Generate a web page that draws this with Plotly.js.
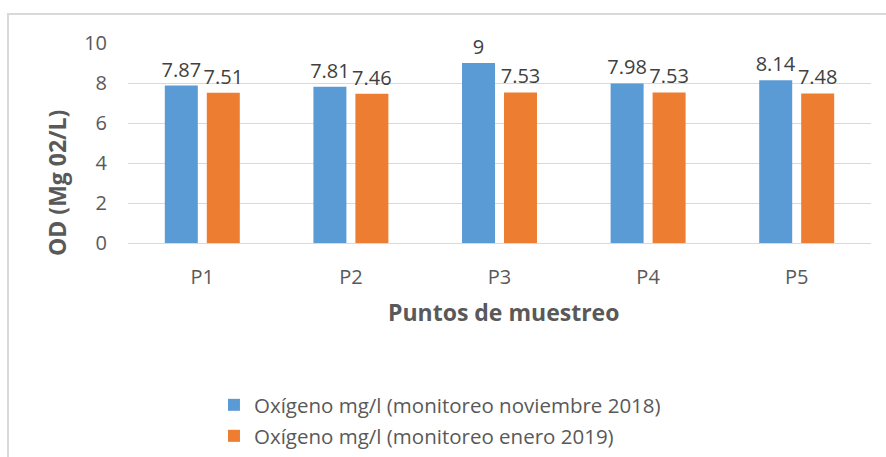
<!DOCTYPE html>
<html>
<head>
<meta charset="utf-8">
<script src="https://cdn.plot.ly/plotly-3.0.1.min.js"></script>
<style>
  html, body { margin: 0; padding: 0; background: #fff; }
  #frame { position: absolute; left: 7px; top: 13px; width: 879px; height: 444px;
           border-left: 2px solid #d9d9d9; border-top: 2px solid #d9d9d9; }
  #chart { width: 877px; height: 442px; }
</style>
</head>
<body>
<div id="frame"><div id="chart"></div></div>
<script>
const categories = ["P1", "P2", "P3", "P4", "P5"];
const nov2018 = [7.87, 7.81, 9, 7.98, 8.14];
const ene2019 = [7.51, 7.46, 7.53, 7.53, 7.48];
const seriesNames = ["Oxígeno mg/l (monitoreo noviembre 2018)", "Oxígeno mg/l (monitoreo enero 2019)"];
const yTicks = [0, 2, 4, 6, 8, 10];
const xTitle = "Puntos de muestreo";
const yTitle = "OD (Mg 02/L)";

const FONT = "'Open Sans', sans-serif";
const labelFont = { family: FONT, size: 20, color: "#404040" };

const traces = [
  { type: "bar", x: categories, y: nov2018, name: seriesNames[0],
    marker: { color: "#5B9BD5" }, text: nov2018.map(String), textposition: "outside",
    textfont: labelFont, constraintext: "none", cliponaxis: false, legend: "legend",
    hoverinfo: "x+y" },
  { type: "bar", x: categories, y: ene2019, name: seriesNames[1],
    marker: { color: "#ED7D31" }, text: ene2019.map(String), textposition: "outside",
    textfont: labelFont, constraintext: "none", cliponaxis: false, legend: "legend2",
    hoverinfo: "x+y" }
];

const legendCommon = { orientation: "v", xanchor: "left", yanchor: "middle",
  font: { family: FONT, size: 20.5, color: "#595959" }, bgcolor: "rgba(0,0,0,0)",
  itemwidth: 30 };

const titleFont = { family: FONT, size: 23, color: "#595959" };

const layout = {
  width: 877, height: 442,
  margin: { l: 119, r: 15, t: 28, b: 214, autoexpand: false },
  paper_bgcolor: "#fff", plot_bgcolor: "#fff",
  barmode: "group", bargap: 0.435, bargroupgap: 0.214,
  font: { family: FONT, color: "#595959" },
  xaxis: {
    type: "category", showgrid: false, showline: true, linecolor: "#d9d9d9", linewidth: 1,
    ticks: "", tickfont: { family: FONT, size: 20, color: "#595959" }, ticklabelstandoff: 16,
    automargin: false
  },
  yaxis: {
    range: [0, 10], tickvals: yTicks, showgrid: true, gridcolor: "#d9d9d9", gridwidth: 1,
    zeroline: false, showline: false, ticks: "", automargin: false,
    tickfont: { family: FONT, size: 20, color: "#595959" }, ticklabelstandoff: 20
  },
  annotations: [
    { text: "<b>" + xTitle + "</b>", xref: "paper", yref: "paper", x: 0.505, y: -0.345,
      xanchor: "center", yanchor: "middle", showarrow: false, font: titleFont },
    { text: "<b>" + yTitle + "</b>", xref: "paper", yref: "paper", x: -0.0956, y: 0.3,
      xanchor: "center", yanchor: "middle", textangle: -90, showarrow: false, font: titleFont }
  ],
  legend: Object.assign({ x: 0.1157, y: -0.81 }, legendCommon),
  legend2: Object.assign({ x: 0.1157, y: -0.965 }, legendCommon),
  showlegend: true
};

Plotly.newPlot("chart", traces, layout, { displayModeBar: false, staticPlot: true });
</script>
</body>
</html>
